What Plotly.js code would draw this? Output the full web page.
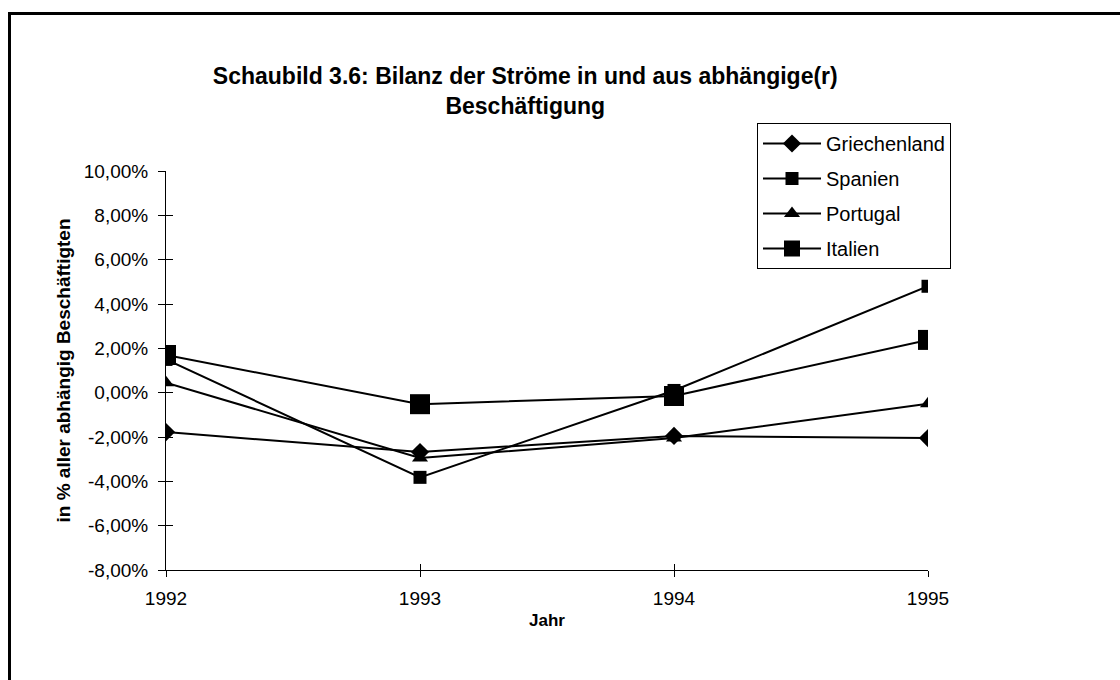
<!DOCTYPE html>
<html>
<head>
<meta charset="utf-8">
<script src="https://cdn.plot.ly/plotly-3.0.1.min.js"></script>
<style>
html,body{margin:0;padding:0;background:#fff;}
#frame{position:absolute;left:8px;top:12px;width:1200px;height:800px;border-left:3px solid #000;border-top:3px solid #000;pointer-events:none;}
#chart{position:absolute;left:0;top:0;width:1120px;height:680px;}
</style>
</head>
<body>
<div id="chart"></div>
<div id="frame"></div>
<script>
var years = [1992, 1993, 1994, 1995];
var griechenland = [-1.78, -2.68, -1.95, -2.05];
var spanien = [1.5, -3.82, 0.1, 4.8];
var portugal = [0.45, -2.95, -2.05, -0.5];
var italien = [1.7, -0.52, -0.15, 2.38];
var yTicks = [-8, -6, -4, -2, 0, 2, 4, 6, 8, 10];
var xTicks = [1992, 1993, 1994, 1995];

var F = 'Liberation Sans, Arial, sans-serif';
function tr(name, y, sym, size) {
  return {
    x: years, y: y, name: name, type: 'scatter', mode: 'lines+markers',
    legendgroup: name,
    line: {color: '#000', width: 2},
    marker: {symbol: sym, size: size, color: '#000', line: {width: 0}}
  };
}
var data = [
  tr('Griechenland', griechenland, 'diamond', 14),
  tr('Spanien', spanien, 'square', 13),
  tr('Portugal', portugal, 'triangle-up', 14),
  tr('Italien', italien, 'square', 20)
];
data.push({x: years, y: yTicks.slice(0,4), xaxis: 'x2', yaxis: 'y2', type: 'scatter', mode: 'markers', marker: {opacity: 0}, showlegend: false, hoverinfo: 'skip'});

var layout = {
  width: 1120, height: 680,
  paper_bgcolor: '#fff', plot_bgcolor: '#fff',
  margin: {l: 166, r: 192, t: 171, b: 110},
  font: {family: F, color: '#000'},
  title: {
    text: '<b>Schaubild 3.6: Bilanz der Ströme in und aus abhängige(r)<br>Beschäftigung</b>',
    font: {size: 23, family: F, color: '#000'},
    x: 0.469, xref: 'container', xanchor: 'center',
    y: 1 - 84/680, yref: 'container', yanchor: 'top'
  },
  xaxis: {
    range: [1992, 1995], tickvals: xTicks, ticktext: xTicks.map(String),
    showgrid: false, zeroline: false, showline: true, linecolor: '#000', linewidth: 1,
    ticks: 'outside', ticklen: 6, tickcolor: '#000', ticklabelstandoff: 5,
    tickfont: {size: 19, family: F},
    title: {text: '<b>Jahr</b>', font: {size: 17, family: F}, standoff: 6}
  },
  yaxis: {
    range: [-8, 10], tickvals: yTicks, ticktext: yTicks.map(function(v){return v.toFixed(2).replace('.', ',') + '%';}),
    showgrid: false, zeroline: false, showline: true, linecolor: '#000', linewidth: 1,
    ticks: 'outside', ticklen: 7, tickcolor: '#000', ticklabelstandoff: 6,
    tickfont: {size: 19, family: F},
    title: {text: '<b>in % aller abhängig Beschäftigten</b>', font: {size: 19, family: F}, standoff: 8}
  },
  xaxis2: {range: [1992, 1995], overlaying: 'x', tickvals: xTicks, showticklabels: false, ticks: 'inside', ticklen: 6, tickcolor: '#000', showgrid: false, zeroline: false, showline: false},
  yaxis2: {range: [-8, 10], overlaying: 'y', tickvals: yTicks, showticklabels: false, ticks: 'inside', ticklen: 7, tickcolor: '#000', showgrid: false, zeroline: false, showline: false},
  showlegend: true,
  legend: {
    x: (757-166)/762, xanchor: 'left', y: (570-123)/399, yanchor: 'top',
    bgcolor: '#fff', bordercolor: '#000', borderwidth: 1,
    font: {size: 20, family: F},
    itemwidth: 58,
    traceorder: 'grouped', tracegroupgap: 6
  }
};
Plotly.newPlot('chart', data, layout, {displayModeBar: false, staticPlot: true});
</script>
</body>
</html>
